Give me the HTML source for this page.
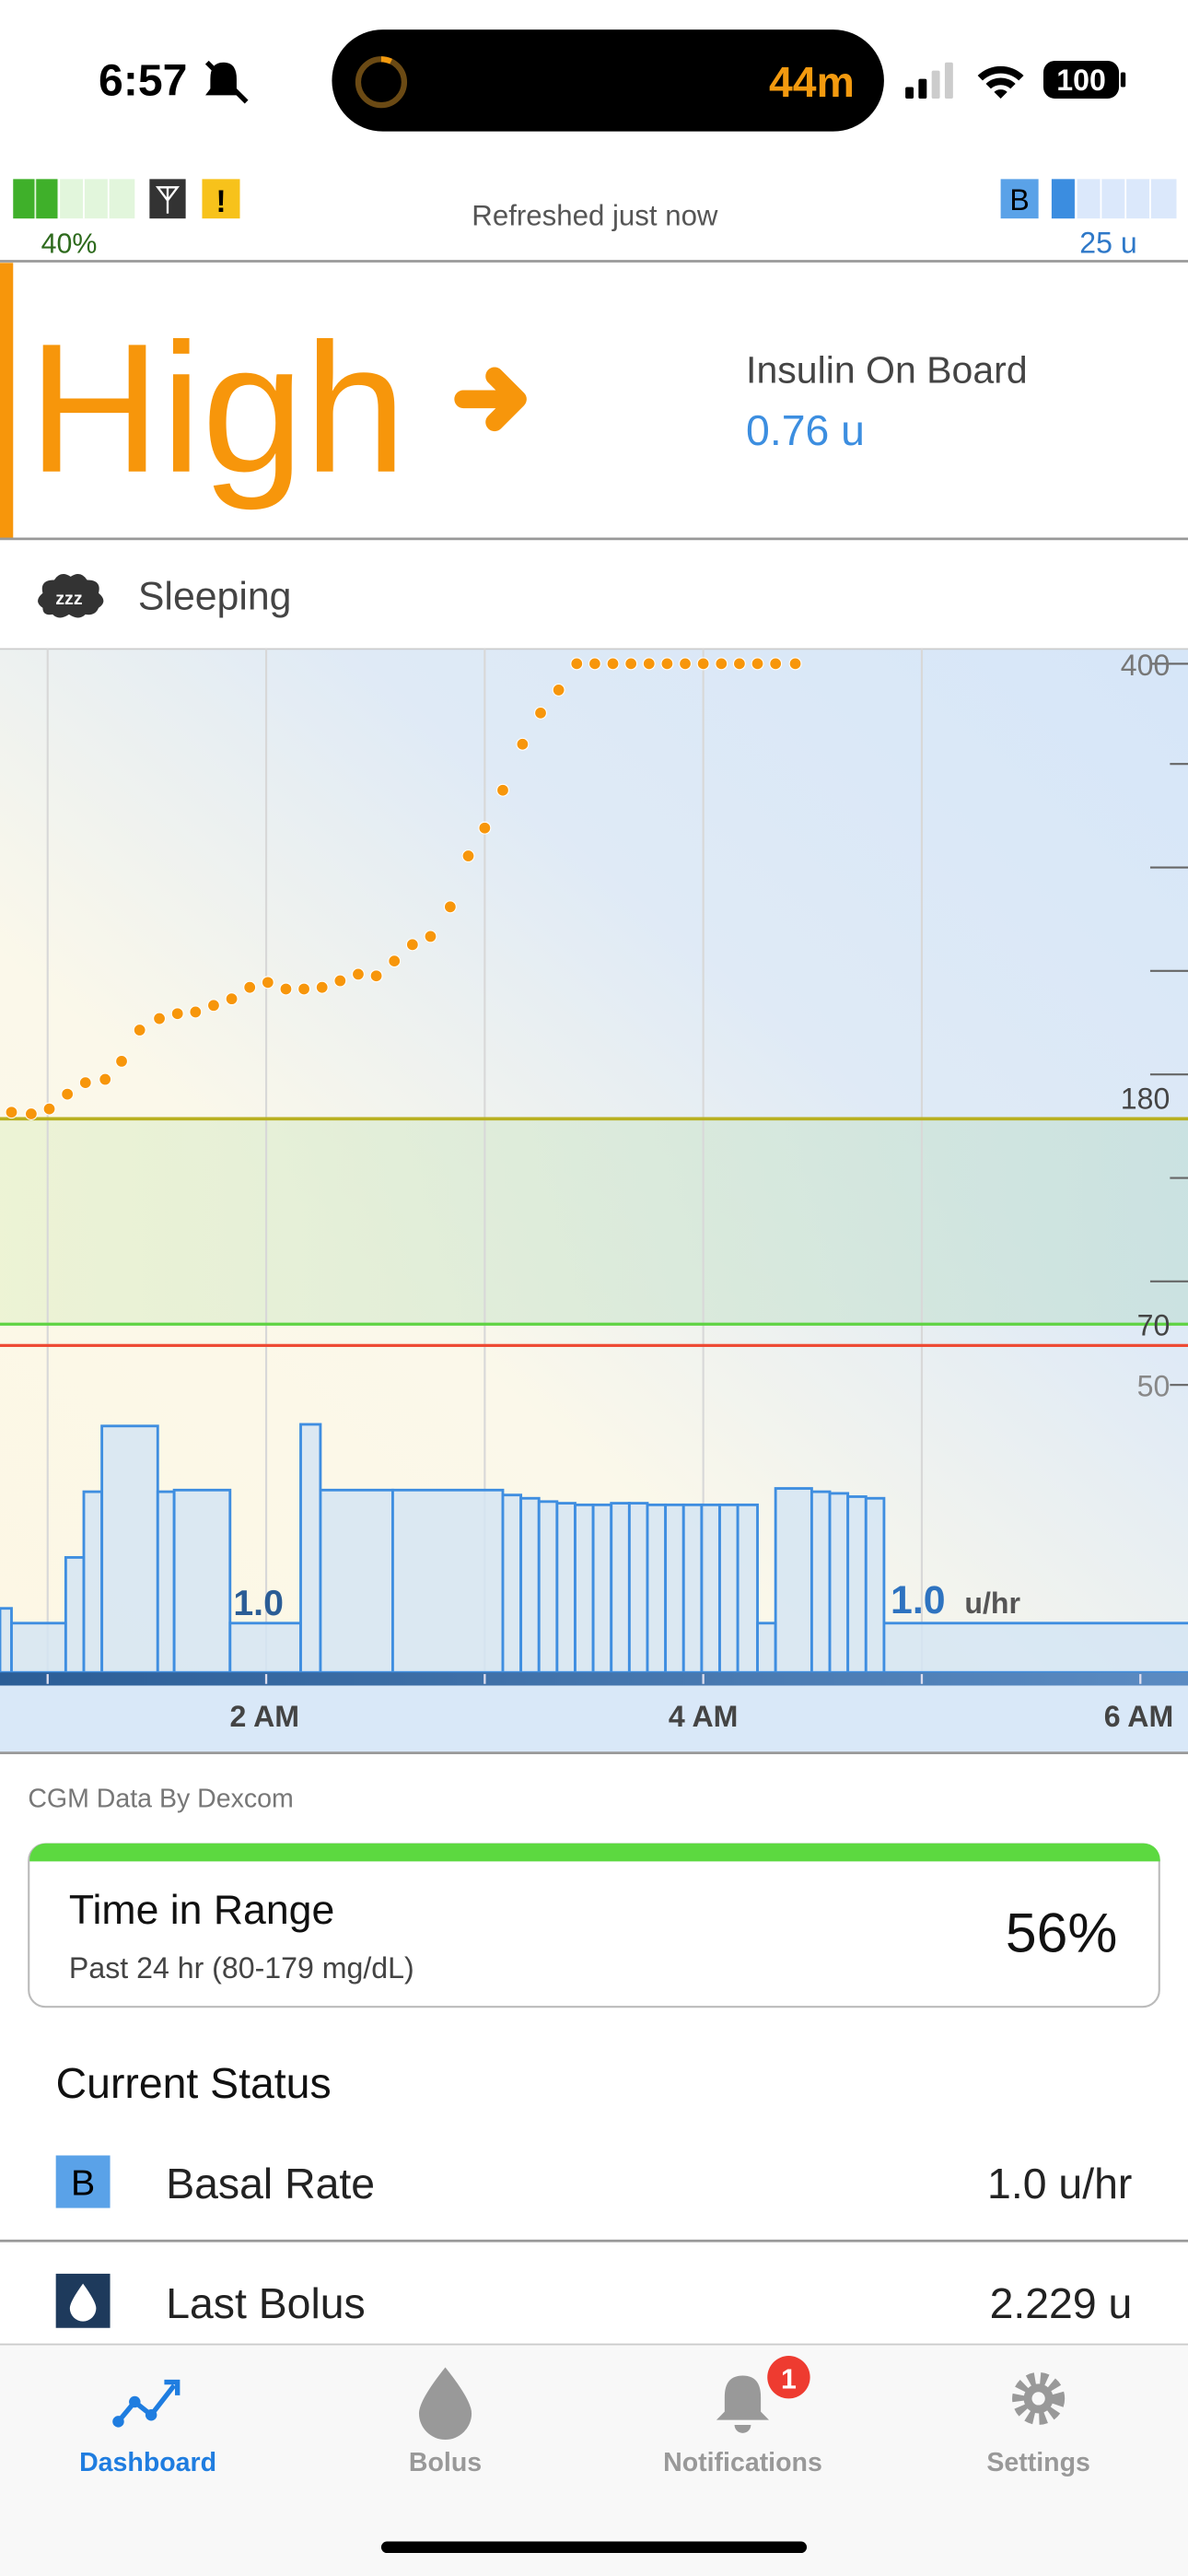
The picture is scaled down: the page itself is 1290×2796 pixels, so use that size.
<!DOCTYPE html>
<html><head><meta charset="utf-8"><style>
html,body{margin:0;padding:0;background:#fff;}
svg{display:block;font-family:"Liberation Sans",sans-serif;}
</style></head><body>
<svg width="1290" height="2796" viewBox="0 0 723 1568" preserveAspectRatio="none" xmlns="http://www.w3.org/2000/svg">
<defs>
<linearGradient id="bg" x1="0" y1="1" x2="1" y2="0">
<stop offset="0" stop-color="#fdf7e4"/><stop offset="0.35" stop-color="#fbf8ea"/><stop offset="0.65" stop-color="#dfeaf6"/><stop offset="1" stop-color="#d6e6f8"/></linearGradient>
<linearGradient id="rng" x1="0" y1="0" x2="1" y2="0"><stop offset="0" stop-color="#e9f2d0" stop-opacity="0.8"/><stop offset="1" stop-color="#c6e0dc" stop-opacity="0.8"/></linearGradient>
<linearGradient id="ax" x1="0" y1="0" x2="1" y2="0"><stop offset="0" stop-color="#2b5d96"/><stop offset="1" stop-color="#5b8bc2"/></linearGradient>
</defs>
<!-- status bar -->
<text x="60" y="58" font-size="27" font-weight="bold" fill="#000">6:57</text>
<path d="M136 38 q-8 0 -8 10 v6 l-3 4 h22 l-3 -4 v-6 q0 -10 -8 -10z" fill="#000"/><line x1="126" y1="38" x2="150" y2="62" stroke="#000" stroke-width="3"/>
<rect x="202" y="18" width="336" height="62" rx="31" fill="#000"/>
<circle cx="232" cy="50" r="14" fill="none" stroke="#6b4a14" stroke-width="3.5"/>
<path d="M232 36 a14 14 0 0 1 6 1.4" stroke="#f39a0f" stroke-width="3.5" fill="none"/>
<text x="468" y="59" font-size="26" font-weight="bold" fill="#f39a0f">44m</text>
<rect x="551" y="53" width="5" height="7" rx="1" fill="#000"/><rect x="559" y="48" width="5" height="12" rx="1" fill="#000"/><rect x="567" y="43" width="5" height="17" rx="1" fill="#ccc"/><rect x="575" y="38" width="5" height="22" rx="1" fill="#ccc"/>
<path d="M595 46 a20 20 0 0 1 28 0 l-3 3 a16 16 0 0 0 -22 0z M600 51 a13 13 0 0 1 18 0 l-3 3 a9 9 0 0 0 -12 0z M605 56 a6 6 0 0 1 8 0 l-4 4z" fill="#000"/>
<rect x="635" y="37" width="46" height="23" rx="7" fill="#000"/><rect x="682" y="44" width="3" height="9" rx="1" fill="#000"/>
<text x="658" y="55" font-size="18" font-weight="bold" fill="#fff" text-anchor="middle">100</text>
<!-- indicators row -->
<rect x="8" y="109" width="74" height="24" fill="#e2f6dc"/>
<rect x="8" y="109" width="13" height="24" fill="#3fb02a"/><rect x="22" y="109" width="13" height="24" fill="#3fb02a"/>
<line x1="36" y1="109" x2="36" y2="133" stroke="#fff"/><line x1="51" y1="109" x2="51" y2="133" stroke="#fff"/><line x1="66" y1="109" x2="66" y2="133" stroke="#fff"/>
<rect x="91" y="109" width="22" height="24" fill="#333"/><path d="M96 114 h12 l-6 8z M102 114 v16" stroke="#fff" stroke-width="1.3" fill="none"/>
<rect x="123" y="109" width="23" height="24" fill="#f7c21b"/><text x="134.5" y="129" font-size="19" font-weight="bold" text-anchor="middle" fill="#000">!</text>
<text x="25" y="154" font-size="17" fill="#2d6a1c">40%</text>
<text x="362" y="137" font-size="17.5" fill="#555" text-anchor="middle">Refreshed just now</text>
<rect x="609" y="109" width="23" height="24" fill="#5aa2e8"/><text x="620.5" y="128" font-size="18" text-anchor="middle" fill="#000">B</text>
<rect x="640" y="109" width="76" height="24" fill="#dbe8fb"/><rect x="640" y="109" width="14" height="24" fill="#3b8de0"/>
<line x1="670" y1="109" x2="670" y2="133" stroke="#fff"/><line x1="685" y1="109" x2="685" y2="133" stroke="#fff"/><line x1="700" y1="109" x2="700" y2="133" stroke="#fff"/><line x1="655" y1="109" x2="655" y2="133" stroke="#fff"/>
<text x="657" y="154" font-size="18" fill="#2e78c8">25 u</text>
<line x1="0" y1="159" x2="723" y2="159" stroke="#999" stroke-width="1.5"/>
<!-- High panel -->
<rect x="0" y="160" width="8" height="168" fill="#f7960b"/>
<text x="17" y="287" font-size="112" fill="#f7960b">High</text>
<path d="M282 243 h32 M301 229 l14 14 l-14 14" stroke="#f7960b" stroke-width="11" stroke-linecap="round" stroke-linejoin="round" fill="none"/>
<text x="454" y="233" font-size="23" fill="#444">Insulin On Board</text>
<text x="454" y="271" font-size="26" fill="#3c8ee0">0.76 u</text>
<line x1="0" y1="328" x2="723" y2="328" stroke="#999" stroke-width="1.5"/>
<!-- sleeping -->
<path d="M26 370 q-6 -4 0 -9 q-2 -8 7 -8 q4 -6 10 -2 q6 -4 10 2 q9 0 7 8 q6 5 0 9 q-2 5 -8 4 q-4 4 -10 0 q-6 4 -10 0 q-6 1 -6 -4z" fill="#333"/>
<text x="42" y="368" font-size="11" fill="#fff" font-weight="bold" text-anchor="middle">zzz</text>
<text x="84" y="371" font-size="24" fill="#444">Sleeping</text>
<!-- chart -->
<rect x="0" y="395" width="723" height="623" fill="url(#bg)"/>
<rect x="0" y="681" width="723" height="125" fill="url(#rng)"/>
<line x1="0" y1="395" x2="723" y2="395" stroke="#ccc"/>
<g stroke="#d8d8d8" stroke-width="1.2">
<line x1="29" y1="395" x2="29" y2="1018"/><line x1="162" y1="395" x2="162" y2="1018"/><line x1="295" y1="395" x2="295" y2="1018"/><line x1="428" y1="395" x2="428" y2="1018"/><line x1="561" y1="395" x2="561" y2="1018"/></g>
<g stroke="#666" stroke-width="1.2">
<line x1="700" y1="404" x2="723" y2="404"/><line x1="712" y1="465" x2="723" y2="465"/><line x1="700" y1="528" x2="723" y2="528"/><line x1="700" y1="591" x2="723" y2="591"/><line x1="700" y1="654" x2="723" y2="654"/><line x1="712" y1="717" x2="723" y2="717"/><line x1="700" y1="780" x2="723" y2="780"/><line x1="712" y1="843" x2="723" y2="843"/></g>
<line x1="0" y1="681" x2="723" y2="681" stroke="#b8b020" stroke-width="2"/>
<line x1="0" y1="806" x2="723" y2="806" stroke="#5fd343" stroke-width="1.8"/>
<line x1="0" y1="819" x2="723" y2="819" stroke="#ee4b35" stroke-width="1.8"/>
<text x="712" y="411" font-size="18" fill="#777" text-anchor="end">400</text>
<text x="712" y="675" font-size="18" fill="#444" text-anchor="end">180</text>
<text x="712" y="813" font-size="18" fill="#444" text-anchor="end">70</text>
<text x="712" y="850" font-size="18" fill="#888" text-anchor="end">50</text>
<!-- basal bars -->
<g fill="#d5e5f3" fill-opacity="0.85" stroke="#3f8ee0" stroke-width="1.6">
<rect x="0" y="979" width="7" height="39"/><rect x="7" y="988" width="33" height="30"/><rect x="40" y="948" width="11" height="70"/><rect x="51" y="908" width="11" height="110"/><rect x="62" y="868" width="34" height="150"/><rect x="96" y="908" width="10" height="110"/><rect x="106" y="907" width="34" height="111"/><rect x="140" y="988" width="43" height="30"/><rect x="183" y="867" width="12" height="151"/><rect x="195" y="907" width="44" height="111"/><rect x="239" y="907" width="67" height="111"/>
<rect x="306" y="910" width="11" height="108"/><rect x="317" y="912" width="11" height="106"/><rect x="328" y="914" width="11" height="104"/><rect x="339" y="915" width="11" height="103"/><rect x="350" y="916" width="11" height="102"/><rect x="361" y="916" width="11" height="102"/><rect x="372" y="915" width="11" height="103"/><rect x="383" y="915" width="11" height="103"/><rect x="394" y="916" width="11" height="102"/><rect x="405" y="916" width="11" height="102"/><rect x="416" y="916" width="11" height="102"/><rect x="427" y="916" width="11" height="102"/><rect x="438" y="916" width="11" height="102"/><rect x="449" y="916" width="12" height="102"/>
<rect x="461" y="988" width="11" height="30"/><rect x="472" y="906" width="22" height="112"/><rect x="494" y="908" width="11" height="110"/><rect x="505" y="909" width="11" height="109"/><rect x="516" y="911" width="11" height="107"/><rect x="527" y="912" width="11" height="106"/><rect x="538" y="988" width="190" height="30"/>
</g>
<text x="142" y="983" font-size="22" font-weight="bold" fill="#2b5d96">1.0</text>
<text x="542" y="982" font-size="24" font-weight="bold" fill="#2e73c0">1.0</text>
<text x="587" y="982" font-size="18" font-weight="bold" fill="#555">u/hr</text>
<!-- glucose dots -->
<g fill="#f7960b" stroke="#fff" stroke-width="0.6">
<circle cx="7" cy="677" r="3.6"/><circle cx="19" cy="678" r="3.6"/><circle cx="30" cy="675" r="3.6"/><circle cx="41" cy="666" r="3.6"/><circle cx="52" cy="659" r="3.6"/><circle cx="64" cy="657" r="3.6"/><circle cx="74" cy="646" r="3.6"/><circle cx="85" cy="627" r="3.6"/><circle cx="97" cy="620" r="3.6"/><circle cx="108" cy="617" r="3.6"/><circle cx="119" cy="616" r="3.6"/><circle cx="130" cy="612" r="3.6"/><circle cx="141" cy="608" r="3.6"/><circle cx="152" cy="601" r="3.6"/><circle cx="163" cy="598" r="3.6"/><circle cx="174" cy="602" r="3.6"/><circle cx="185" cy="602" r="3.6"/><circle cx="196" cy="601" r="3.6"/><circle cx="207" cy="597" r="3.6"/><circle cx="218" cy="593" r="3.6"/><circle cx="229" cy="594" r="3.6"/><circle cx="240" cy="585" r="3.6"/><circle cx="251" cy="575" r="3.6"/><circle cx="262" cy="570" r="3.6"/><circle cx="274" cy="552" r="3.6"/><circle cx="285" cy="521" r="3.6"/><circle cx="295" cy="504" r="3.6"/><circle cx="306" cy="481" r="3.6"/><circle cx="318" cy="453" r="3.6"/><circle cx="329" cy="434" r="3.6"/><circle cx="340" cy="420" r="3.6"/><circle cx="351" cy="404" r="3.6"/><circle cx="362" cy="404" r="3.6"/><circle cx="373" cy="404" r="3.6"/><circle cx="384" cy="404" r="3.6"/><circle cx="395" cy="404" r="3.6"/><circle cx="406" cy="404" r="3.6"/><circle cx="417" cy="404" r="3.6"/><circle cx="428" cy="404" r="3.6"/><circle cx="439" cy="404" r="3.6"/><circle cx="450" cy="404" r="3.6"/><circle cx="461" cy="404" r="3.6"/><circle cx="472" cy="404" r="3.6"/><circle cx="484" cy="404" r="3.6"/>
</g>
<!-- x axis -->
<rect x="0" y="1018" width="723" height="8" fill="url(#ax)"/>
<g stroke="#dde" stroke-width="1.3"><line x1="29" y1="1019" x2="29" y2="1025"/><line x1="162" y1="1019" x2="162" y2="1025"/><line x1="295" y1="1019" x2="295" y2="1025"/><line x1="428" y1="1019" x2="428" y2="1025"/><line x1="561" y1="1019" x2="561" y2="1025"/><line x1="694" y1="1019" x2="694" y2="1025"/></g>
<rect x="0" y="1026" width="723" height="41" fill="#d9e8f8"/>
<g font-size="18" font-weight="bold" fill="#444" text-anchor="middle"><text x="161" y="1051">2 AM</text><text x="428" y="1051">4 AM</text><text x="693" y="1051">6 AM</text></g>
<line x1="0" y1="1067" x2="723" y2="1067" stroke="#999" stroke-width="1.5"/>
<!-- below -->
<text x="17" y="1100" font-size="16" fill="#777">CGM Data By Dexcom</text>
<rect x="17.5" y="1122.5" width="688" height="99" rx="10" fill="#fff" stroke="#bbb" stroke-width="1.2"/>
<path d="M18 1133 v-1 a10 10 0 0 1 10 -10 h668 a10 10 0 0 1 10 10 v1z" fill="#5cd940"/>
<text x="42" y="1171" font-size="25" fill="#111">Time in Range</text>
<text x="42" y="1204" font-size="18" fill="#444">Past 24 hr (80-179 mg/dL)</text>
<text x="680" y="1188" font-size="34" fill="#111" text-anchor="end">56%</text>
<text x="34" y="1277" font-size="26" fill="#111">Current Status</text>
<rect x="34" y="1312" width="33" height="32" fill="#5aa2e8"/><text x="50.5" y="1336" font-size="22" text-anchor="middle" fill="#000">B</text>
<text x="101" y="1338" font-size="26" fill="#222">Basal Rate</text>
<text x="689" y="1338" font-size="26" fill="#222" text-anchor="end">1.0 u/hr</text>
<line x1="0" y1="1364" x2="723" y2="1364" stroke="#999" stroke-width="1.5"/>
<rect x="34" y="1384" width="33" height="33" fill="#1e3a5c"/><path d="M50.5 1390 q-8 11 -8 15 a8 8 0 0 0 16 0 q0 -4 -8 -15z" fill="#fff"/>
<text x="101" y="1411" font-size="26" fill="#222">Last Bolus</text>
<text x="689" y="1411" font-size="26" fill="#222" text-anchor="end">2.229 u</text>
<!-- tab bar -->
<rect x="0" y="1427" width="723" height="141" fill="#f8f8f8"/>
<line x1="0" y1="1427" x2="723" y2="1427" stroke="#ccc"/>
<path d="M72 1474 l10 -12 l10 8 l14 -18" stroke="#1f7de0" stroke-width="3" fill="none"/><circle cx="72" cy="1474" r="3.5" fill="#1f7de0"/><circle cx="82" cy="1462" r="3.5" fill="#1f7de0"/><circle cx="92" cy="1470" r="3.5" fill="#1f7de0"/><path d="M100 1450 h8 v8" stroke="#1f7de0" stroke-width="3" fill="none"/>
<path d="M271 1441 q-16 20 -16 28 a16 16 0 0 0 32 0 q0 -8 -16 -28z" fill="#999"/>
<path d="M452 1446 q-11 0 -11 13 v9 l-5 5 h32 l-5 -5 v-9 q0 -13 -11 -13z M447 1476 a5 5 0 0 0 10 0z" fill="#999"/>
<circle cx="480" cy="1447" r="13" fill="#ee3b30"/><text x="480" y="1454" font-size="17" font-weight="bold" fill="#fff" text-anchor="middle">1</text>
<circle cx="632" cy="1460" r="12" fill="none" stroke="#999" stroke-width="8" stroke-dasharray="4 3.2"/><circle cx="632" cy="1460" r="9" fill="#999"/><circle cx="632" cy="1460" r="4" fill="#f8f8f8"/>
<g font-size="16" font-weight="bold" text-anchor="middle"><text x="90" y="1504" fill="#1f7de0">Dashboard</text><text x="271" y="1504" fill="#999">Bolus</text><text x="452" y="1504" fill="#999">Notifications</text><text x="632" y="1504" fill="#999">Settings</text></g>
<rect x="232" y="1547" width="259" height="7" rx="3.5" fill="#000"/>
</svg>
</body></html>
